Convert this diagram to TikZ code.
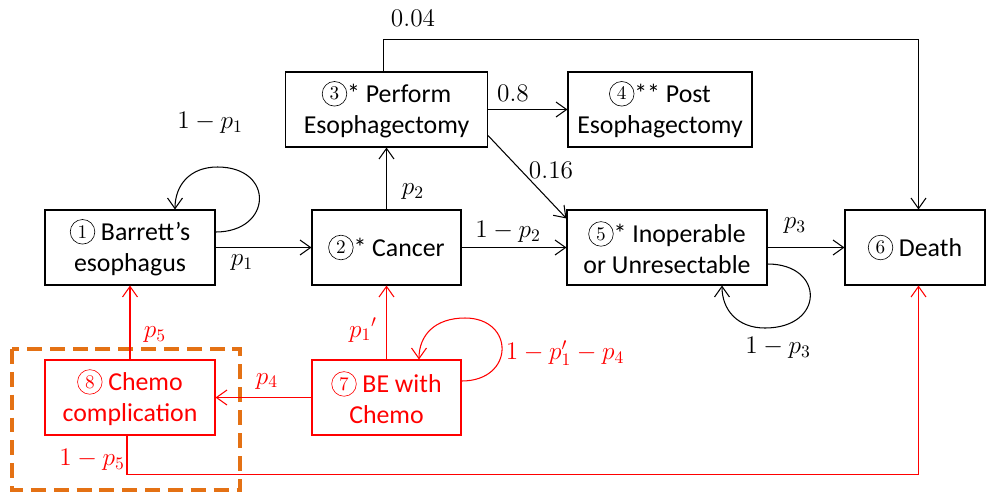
\documentclass[tikz,border=0pt]{standalone}
\usepackage{fontspec}
\setmainfont{Carlito}
\usetikzlibrary{positioning}
\usetikzlibrary{arrows.meta}
\usepackage{amsmath}
\usepackage{xcolor}
\definecolor{chemored}{RGB}{255,0,0}
\definecolor{boxorange}{RGB}{228,113,20}
% circled state number
\newcommand{\cn}[1]{\tikz[baseline={([yshift=-1.4pt]n.base)}]\node[draw, circle, inner sep=0pt,
    minimum size=14pt, line width=0.35pt, font=\fontsize{11}{11}\selectfont] (n) {$#1$};}

\begin{document}
\begin{tikzpicture}[font=\fontsize{14.7}{17.6}\selectfont,
    state/.style={draw, rectangle, align=center, minimum height=1.5cm, line width=0.6pt},
    arr/.style={-{Straight Barb[length=6pt,width=8.5pt]}, line width=0.6pt},
    red state/.style={state, draw=chemored, text=chemored},
    red arr/.style={arr, draw=chemored},
    lbl/.style={text=black},
    red lbl/.style={text=chemored}]
            % Markov states of the esophageal cancer model
            \useasboundingbox (0,0) rectangle (19.72,-9.86);
            \node[state, minimum width=3.4cm] (barrett) at (2.6,-4.95) {\cn{1} Barrett’s\\esophagus};
            \node[state, minimum width=2.98cm] (cancer) at (7.73,-4.95) {\cn{2}* Cancer};
            \node[state, minimum width=4.04cm] (surgery) at (7.73,-2.19) {\cn{3}* Perform\\Esophagectomy};
            \node[state, minimum width=3.68cm] (post) at (13.2,-2.19) {\cn{4}** Post\\Esophagectomy};
            \node[state, minimum width=4.0cm] (inoper) at (13.34,-4.95) {\cn{5}* Inoperable\\or Unresectable};
            \node[state, minimum width=2.8cm] (death) at (18.3,-4.95) {\cn{6} Death};
            \node[red state, minimum width=2.98cm] (bechemo) at (7.73,-7.95) {\cn{7} BE with\\Chemo};
            \node[red state, minimum width=3.4cm] (complic) at (2.6,-7.95) {\cn{8} Chemo\\complication};

            % chemo complication group
            \draw[boxorange, line width=1.8pt, dash pattern=on 8.5pt off 4.5pt] (0.24,-6.98) rectangle (4.8,-9.8);

            % black transitions
            \draw[arr] (barrett.east) -- (cancer.west);
            \draw[arr] ([yshift=0.31cm]barrett.east) .. controls (5.45,-4.64) and (5.5,-3.34) .. (4.35,-3.34)
                .. controls (3.8,-3.34) and (3.5,-3.7) .. ([xshift=0.9cm]barrett.north);
            \draw[arr] (cancer.north) -- (surgery.south);
            \draw[arr] (cancer.east) -- (inoper.west);
            \draw[arr] (surgery.east) -- (post.west);
            \draw[arr] ([yshift=0.24cm]surgery.south east) -- ([yshift=-0.18cm]inoper.north west);
            \draw[arr] ([xshift=-0.06cm]surgery.north) -- ++(0,0.64) -| ([xshift=0.07cm]death.north);
            \draw[arr] (inoper.east) -- (death.west);
            \draw[arr] ([yshift=-0.33cm]inoper.east) .. controls (16.5,-5.28) and (16.5,-6.56) .. (15.3,-6.56)
                .. controls (14.75,-6.56) and (14.44,-6.2) .. ([xshift=1.1cm]inoper.south);

            % red transitions
            \draw[red arr] (bechemo.north) -- (cancer.south);
            \draw[red arr] ([yshift=0.33cm]bechemo.east) .. controls (10.3,-7.62) and (10.3,-6.36) .. (9.3,-6.36)
                .. controls (8.7,-6.36) and (8.38,-6.7) .. ([xshift=0.65cm]bechemo.north);
            \draw[red arr] (bechemo.west) -- (complic.east);
            \draw[red arr] (complic.north) -- (barrett.south);
            \draw[red arr] ([xshift=-0.06cm]complic.south) -- ++(0,-0.78) -| ([xshift=0.07cm]death.south);

            % transition probabilities
            \node[lbl] (l1) at (4.84,-5.26) {$p_1$};
            \node[lbl] (l2) at (4.2,-2.46) {$1-p_1$};
            \node[lbl] (l3) at (8.26,-3.84) {$p_2$};
            \node[lbl] (l4) at (10.16,-4.64) {$1-p_2$};
            \node[lbl] (l5) at (10.26,-1.86) {$0.8$};
            \node[lbl] (l6) at (11.02,-3.4) {$0.16$};
            \node[lbl] (l7) at (8.26,-0.36) {$0.04$};
            \node[lbl] (l8) at (15.9,-4.52) {$p_3$};
            \node[lbl] (l9) at (15.56,-6.96) {$1-p_3$};
            \node[red lbl] (l10) at (7.26,-6.6) {$p_1{}'$};
            \node[red lbl] (l11) at (11.3,-7.06) {$1-p_1'-p_4$};
            \node[red lbl] (l12) at (5.34,-7.62) {$p_4$};
            \node[red lbl] (l13) at (3.1,-6.7) {$p_5$};
            \node[red lbl] (l14) at (1.84,-9.2) {$1-p_5$};
        \end{tikzpicture}
\end{document}
